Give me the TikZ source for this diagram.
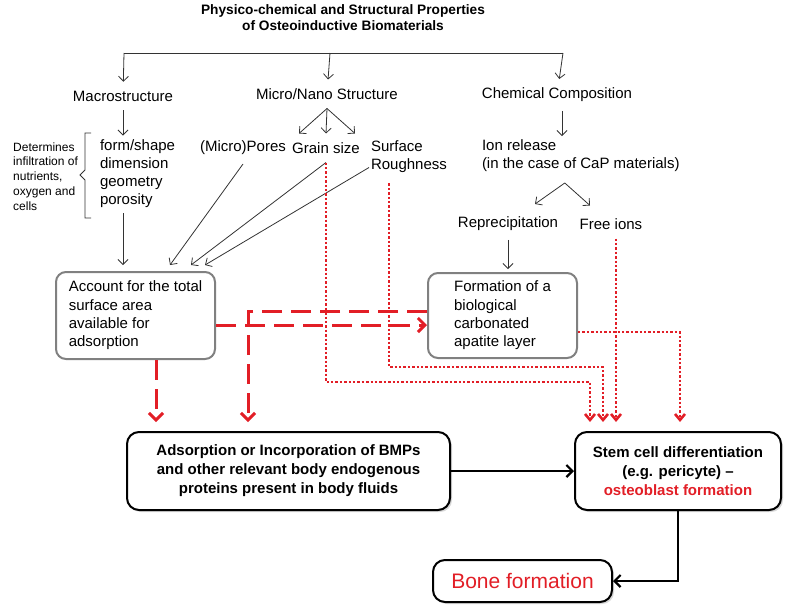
\documentclass[tikz,border=0pt]{standalone}
\usepackage{fontspec}
\setmainfont{Liberation Sans}
\usetikzlibrary{arrows.meta,shadows}
\definecolor{bred}{RGB}{226,30,38}
\definecolor{bgray}{RGB}{128,128,128}
\begin{document}
\begin{tikzpicture}[x=1pt, y=-1pt,
   lbl/.style={inner sep=2pt, outer sep=7pt, align=left, font=\fontsize{15}{18}\selectfont},
   note/.style={inner sep=2pt, align=left, font=\fontsize{12}{14.8}\selectfont},
   gbox/.style={draw=bgray, line width=2pt, rounded corners=10pt, inner xsep=10pt, align=left, font=\fontsize{15}{18.3}\selectfont},
   bbox/.style={draw, line width=2pt, rounded corners=12pt, fill=white, align=center, font=\bfseries\fontsize{15}{19}\selectfont, drop shadow={shadow xshift=2pt, shadow yshift=-2pt, opacity=0.3}},
   arr/.style={draw=black!80, line width=0.8pt, -{Straight Barb[length=5pt,width=10pt]}},
   blk/.style={line width=2.2pt, -{Straight Barb[length=6pt,width=12pt]}},
   redash/.style={draw=bred, line width=3pt, dash pattern=on 20pt off 9pt, -{Straight Barb[length=7pt,width=14pt]}},
   redot/.style={draw=bred, line width=2.6pt, dash pattern=on 2.4pt off 2pt, -{Straight Barb[length=6pt,width=10pt]}}]
   \useasboundingbox (0,0) rectangle (790,611);
   \node  (title) [align=center, font=\bfseries\fontsize{13.7}{16}\selectfont] at (343,18)
      {Physico-chemical and Structural Properties\\of Osteoinductive Biomaterials};
   \coordinate (bar-l) at (124,53);
   \coordinate (bar-m) at (330,53);
   \coordinate (bar-r) at (563,53);
   \node  (macro)  [lbl] at (123,96)  {Macrostructure};
   \node  (micro)  [lbl] at (327,94)  {Micro/Nano Structure};
   \node  (chem)   [lbl] at (557,95)  {Chemical Composition};
   \node  (determ) [note, anchor=west] at (11,176.5) {Determines\\infiltration of\\nutrients,\\oxygen and\\cells};
   \node  (forms)  [lbl, anchor=west, outer sep=0pt] at (98,173.5) {form/shape\\dimension\\geometry\\porosity};
   \node  (pores)  [lbl] at (243,148) {(Micro)Pores};
   \node  (grain)  [lbl] at (326,148) {Grain size};
   \node  (rough)  [lbl, anchor=west, outer sep=0pt] at (369,156.5) {Surface\\Roughness};
   \node  (ion)    [lbl, anchor=west, outer sep=0pt] at (480,156) {Ion release\\(in the case of CaP materials)};
   \node  (reprec) [lbl] at (508,224) {Reprecipitation};
   \node  (free)   [lbl] at (611,224) {Free ions};
   \node  (acc)    [gbox, minimum width=159, minimum height=87] at (135.5,315.5)
      {Account for the total\\surface area\\available for\\adsorption};
   \node  (form)   [gbox, minimum width=149, minimum height=85] at (502.5,315.5)
      {Formation of a\\biological\\carbonated\\apatite layer};
   \node  (ads)    [bbox, minimum width=323, minimum height=78] at (288.5,471)
      {Adsorption or Incorporation of BMPs\\and other relevant body endogenous\\proteins present in body fluids};
   \node  (stem)   [bbox, minimum width=206, minimum height=78] at (678,471)
      {Stem cell differentiation\\(e.g. pericyte) --\\\textcolor{bred}{osteoblast formation}};
   \node  (bone)   [bbox, font=\fontsize{21}{24}\selectfont, text=bred, minimum width=179, minimum height=42] at (522.5,581)
      {Bone formation};
   \draw [draw=black!80, line width=0.8pt] (bar-l) -- (bar-r);
   \draw [arr] (bar-l) -- (macro);
   \draw [arr] (bar-m) -- (micro);
   \draw [arr] (bar-r) -- (chem);
   \draw [draw=black!80, line width=0.8pt] (91,133) -- (85,133) -- (85,170) -- (80,175) -- (85,180) -- (85,218) -- (91,218);
   \draw [arr] (macro.south) -- ([yshift=2pt]macro.south |- forms.north);
   \draw [arr] ([yshift=-4pt]macro.south |- forms.south) -- ([yshift=6pt]macro.south |- acc.north);
   \draw [arr] (micro.south) -- ([xshift=-27pt]grain.north);
   \draw [arr] (micro.south) -- (grain.north);
   \draw [arr] (micro.south) -- ([xshift=29pt]grain.north);
   \draw [arr] (pores.south) -- ([xshift=115pt,yshift=6pt]acc.north west);
   \draw [arr] (grain.south) -- ([xshift=136pt,yshift=6pt]acc.north west);
   \draw [arr] ([yshift=-11pt]rough.west) -- ([xshift=150pt,yshift=6pt]acc.north west);
   \draw [arr] ([xshift=5pt]chem.south) -- ([xshift=5pt,yshift=2pt]chem.south |- ion.north);
   \draw [arr] ([xshift=-16pt,yshift=-9pt]ion.south) -- ([xshift=27pt,yshift=4pt]reprec.north);
   \draw [arr] ([xshift=-16pt,yshift=-9pt]ion.south) -- ([xshift=-21pt,yshift=4pt]free.north);
   \draw [arr] (reprec.south) -- ([yshift=3pt]reprec.south |- form.north);
   \coordinate (bend-a) at (590,382);
   \coordinate (bend-b) at (603,367);
   \draw [redot, shorten >=9pt] (grain.south) |- (bend-a) -- (bend-a |- stem.north);
   \draw [redot, shorten >=9pt] ([xshift=20pt,yshift=-9pt]rough.south west) |- (bend-b) -- (bend-b |- stem.north);
   \draw [redot, shorten >=9pt] ([xshift=5pt]free.south) -- ([xshift=5pt]free.south |- stem.north);
   \draw [redot, shorten >=9pt] ([yshift=-16.5pt]form.east) -| ([xshift=2pt]stem.north);
   \draw [redash] ([yshift=-9.5pt]acc.east) -- ([yshift=-9.5pt]form.west);
   \draw [redash, shorten >=9pt] ([yshift=4.5pt]form.west) -| ([xshift=-40.5pt]ads.north);
   \draw [redash, shorten >=9pt] ([xshift=20.5pt]acc.south) -- ([xshift=20.5pt]acc.south |- ads.north);
   \draw [blk] (ads) -- (stem);
   \draw [blk] (stem.south) |- (bone.east);
\end{tikzpicture}
\end{document}
